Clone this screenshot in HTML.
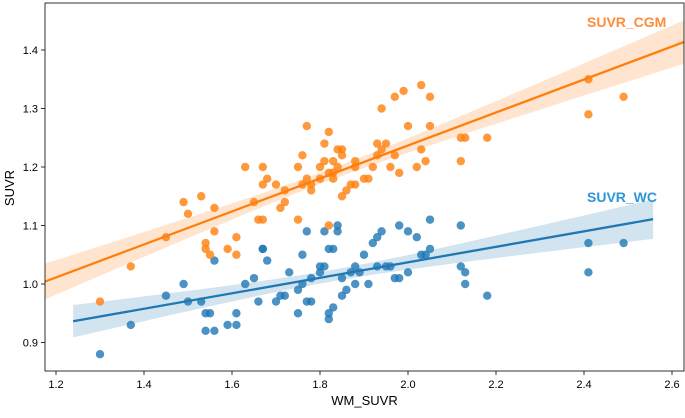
<!DOCTYPE html>
<html><head><meta charset="utf-8"><style>
html,body{margin:0;padding:0;background:#fff;}
svg text{font-family:"Liberation Sans","DejaVu Sans",sans-serif;}
</style></head><body>
<svg id="chart" width="685" height="413" viewBox="0 0 685 413" xmlns="http://www.w3.org/2000/svg">
<g id="plot"></g>
</svg>
<script>
const cgmX=[1.30,1.37,1.45,1.49,1.50,1.53,1.54,1.54,1.55,1.56,1.56,1.59,1.61,1.61,1.63,1.65,1.66,1.67,1.67,1.67,1.68,1.70,1.71,1.72,1.72,1.75,1.75,1.76,1.76,1.77,1.77,1.78,1.78,1.80,1.80,1.81,1.81,1.82,1.82,1.83,1.83,1.82,1.83,1.84,1.84,1.85,1.85,1.85,1.86,1.87,1.88,1.88,1.88,1.90,1.91,1.92,1.93,1.93,1.94,1.94,1.95,1.96,1.97,1.97,1.98,1.99,2.00,2.02,2.03,2.03,2.04,2.05,2.05,2.12,2.12,2.13,2.18,2.41,2.41,2.49];
const cgmY=[0.97,1.03,1.08,1.14,1.12,1.15,1.07,1.06,1.05,1.09,1.13,1.06,1.08,1.05,1.20,1.14,1.11,1.11,1.20,1.17,1.18,1.17,1.13,1.14,1.16,1.11,1.20,1.22,1.17,1.27,1.18,1.17,1.16,1.18,1.20,1.21,1.24,1.26,1.19,1.19,1.18,1.10,1.21,1.23,1.20,1.23,1.22,1.15,1.16,1.17,1.21,1.20,1.17,1.18,1.18,1.20,1.22,1.24,1.30,1.23,1.24,1.20,1.22,1.32,1.19,1.33,1.27,1.20,1.34,1.23,1.21,1.27,1.32,1.25,1.21,1.25,1.25,1.35,1.29,1.32];
const wcX=[1.30,1.37,1.45,1.49,1.50,1.53,1.54,1.54,1.55,1.56,1.56,1.59,1.61,1.61,1.63,1.65,1.66,1.67,1.67,1.68,1.70,1.71,1.72,1.73,1.75,1.75,1.76,1.76,1.77,1.77,1.78,1.78,1.80,1.80,1.81,1.81,1.82,1.82,1.83,1.83,1.82,1.84,1.84,1.85,1.85,1.86,1.87,1.88,1.88,1.89,1.90,1.91,1.92,1.93,1.93,1.94,1.95,1.96,1.97,1.98,1.98,2.00,2.00,2.02,2.03,2.04,2.05,2.05,2.12,2.12,2.13,2.13,2.18,2.41,2.41,2.49];
const wcY=[0.88,0.93,0.98,1.00,0.97,0.97,0.95,0.92,0.95,1.04,0.92,0.93,0.95,0.93,1.00,1.01,0.97,1.06,1.06,1.04,0.97,0.98,0.98,1.02,0.95,0.99,1.05,1.00,1.09,0.97,0.97,1.01,1.02,1.03,1.03,1.09,0.95,1.06,1.06,0.96,0.94,1.10,1.09,1.01,0.98,0.99,1.02,1.03,1.00,1.02,1.05,1.00,1.07,1.08,1.03,1.09,1.03,1.03,1.01,1.01,1.10,1.09,1.02,1.08,1.05,1.05,1.06,1.11,1.10,1.03,1.00,1.02,0.98,1.07,1.02,1.07];
const xTicks=[1.2,1.4,1.6,1.8,2.0,2.2,2.4,2.6];
const yTicks=[0.9,1.0,1.1,1.2,1.3,1.4];

const L=45,R=684,T=3,B=371;
const sx=v=>56+(v-1.2)*440;
const sy=v=>284-(v-1.0)*585;
const NS="http://www.w3.org/2000/svg";
const g=document.getElementById('plot');
function mk(tag,attrs,parent){const e=document.createElementNS(NS,tag);for(const k in attrs)e.setAttribute(k,attrs[k]);(parent||g).appendChild(e);return e;}

function fit(xs,ys){
  const n=xs.length;let mx=0,my=0;for(let i=0;i<n;i++){mx+=xs[i];my+=ys[i];}mx/=n;my/=n;
  let sxx=0,sxy=0;for(let i=0;i<n;i++){sxx+=(xs[i]-mx)**2;sxy+=(xs[i]-mx)*(ys[i]-my);}
  const b=sxy/sxx,a=my-b*mx;let sse=0;for(let i=0;i<n;i++)sse+=(ys[i]-a-b*xs[i])**2;
  const s=Math.sqrt(sse/(n-2));
  return {a,b,se:x=>1.99*s*Math.sqrt(1/n+(x-mx)**2/sxx)};
}
function drawSeries(xs,ys,color,bandColor,x0,x1,name){
  const f=fit(xs,ys);const top=[],bot=[];
  for(let i=0;i<=50;i++){const x=x0+(x1-x0)*i/50;const y=f.a+f.b*x;top.push(sx(x)+','+sy(y+f.se(x)));bot.unshift(sx(x)+','+sy(y-f.se(x)));}
  const band=mk('polygon',{points:top.concat(bot).join(' '),fill:bandColor,'fill-opacity':0.18,stroke:'none'});
  
  
  for(let i=0;i<xs.length;i++){
    const c=mk('circle',{cx:sx(xs[i]),cy:sy(ys[i]),r:4.2,fill:color,'fill-opacity':0.8});
    
    
  }
  const ln=mk('line',{x1:sx(x0),y1:sy(f.a+f.b*x0),x2:sx(x1),y2:sy(f.a+f.b*x1),stroke:color,'stroke-width':2.3});
  
  
}
const cp=mk('clipPath',{id:'clip'});mk('rect',{x:L,y:T,width:R-L,height:B-T},cp);
const inner=mk('g',{'clip-path':'url(#clip)'});
const gOld=g;
(function(){const save=g;})();
// draw series inside clip group
function drawIn(fn){const prev=window._g;}
const origMk=mk;
{
  const target=inner;
  const mk2=(tag,attrs)=>origMk(tag,attrs,target);
  const f=(xs,ys,color,bandColor,x0,x1,name)=>{
    const ft=fit(xs,ys);const top=[],bot=[];
    for(let i=0;i<=50;i++){const x=x0+(x1-x0)*i/50;const y=ft.a+ft.b*x;top.push(sx(x)+','+sy(y+ft.se(x)));bot.unshift(sx(x)+','+sy(y-ft.se(x)));}
    const band=mk2('polygon',{points:top.concat(bot).join(' '),fill:bandColor,'fill-opacity':0.2,stroke:'none'});
    
    
    for(let i=0;i<xs.length;i++){
      const c=mk2('circle',{cx:sx(xs[i]),cy:sy(ys[i]),r:4.2,fill:color,'fill-opacity':0.8});
      
      
    }
    const ln=mk2('line',{x1:sx(x0),y1:sy(ft.a+ft.b*x0),x2:sx(x1),y2:sy(ft.a+ft.b*x1),stroke:color,'stroke-width':2.3});
    
    
  };
  f(wcX,wcY,'#1f77b4','#1f77b4',1.239,2.557,'suvr-wc');
  f(cgmX,cgmY,'#ff7f0e','#ff7f0e',1.175,2.63,'suvr-cgm');
}
// frame
const fr=mk('rect',{x:L,y:T,width:R-L,height:B-T,fill:'none',stroke:'#000','stroke-width':0.8});


xTicks.forEach(v=>{
  const t=mk('line',{x1:sx(v),y1:B,x2:sx(v),y2:B+4,stroke:'#000','stroke-width':0.8});
  
  
  const l=mk('text',{x:sx(v),y:B+17,'text-anchor':'middle','font-size':11,fill:'#000'});l.textContent=v.toFixed(1);
  
  
});
yTicks.forEach(v=>{
  const t=mk('line',{x1:L-4,y1:sy(v),x2:L,y2:sy(v),stroke:'#000','stroke-width':0.8});
  
  
  const l=mk('text',{x:L-7,y:sy(v)+4,'text-anchor':'end','font-size':11,fill:'#000'});l.textContent=v.toFixed(1);
  
  
});
const xt=mk('text',{x:(L+R)/2,y:405,'text-anchor':'middle','font-size':13,fill:'#000'});xt.textContent='WM_SUVR';


const yt=mk('text',{x:0,y:0,transform:'translate(14,188) rotate(-90)','text-anchor':'middle','font-size':13,fill:'#000'});yt.textContent='SUVR';


const a1=mk('text',{x:587,y:27,'font-size':14,'font-weight':'bold',fill:'#ff8c3a'});a1.textContent='SUVR_CGM';


const a2=mk('text',{x:587,y:202,'font-size':14,'font-weight':'bold',fill:'#2e95d8'});a2.textContent='SUVR_WC';


</script>
</body></html>
